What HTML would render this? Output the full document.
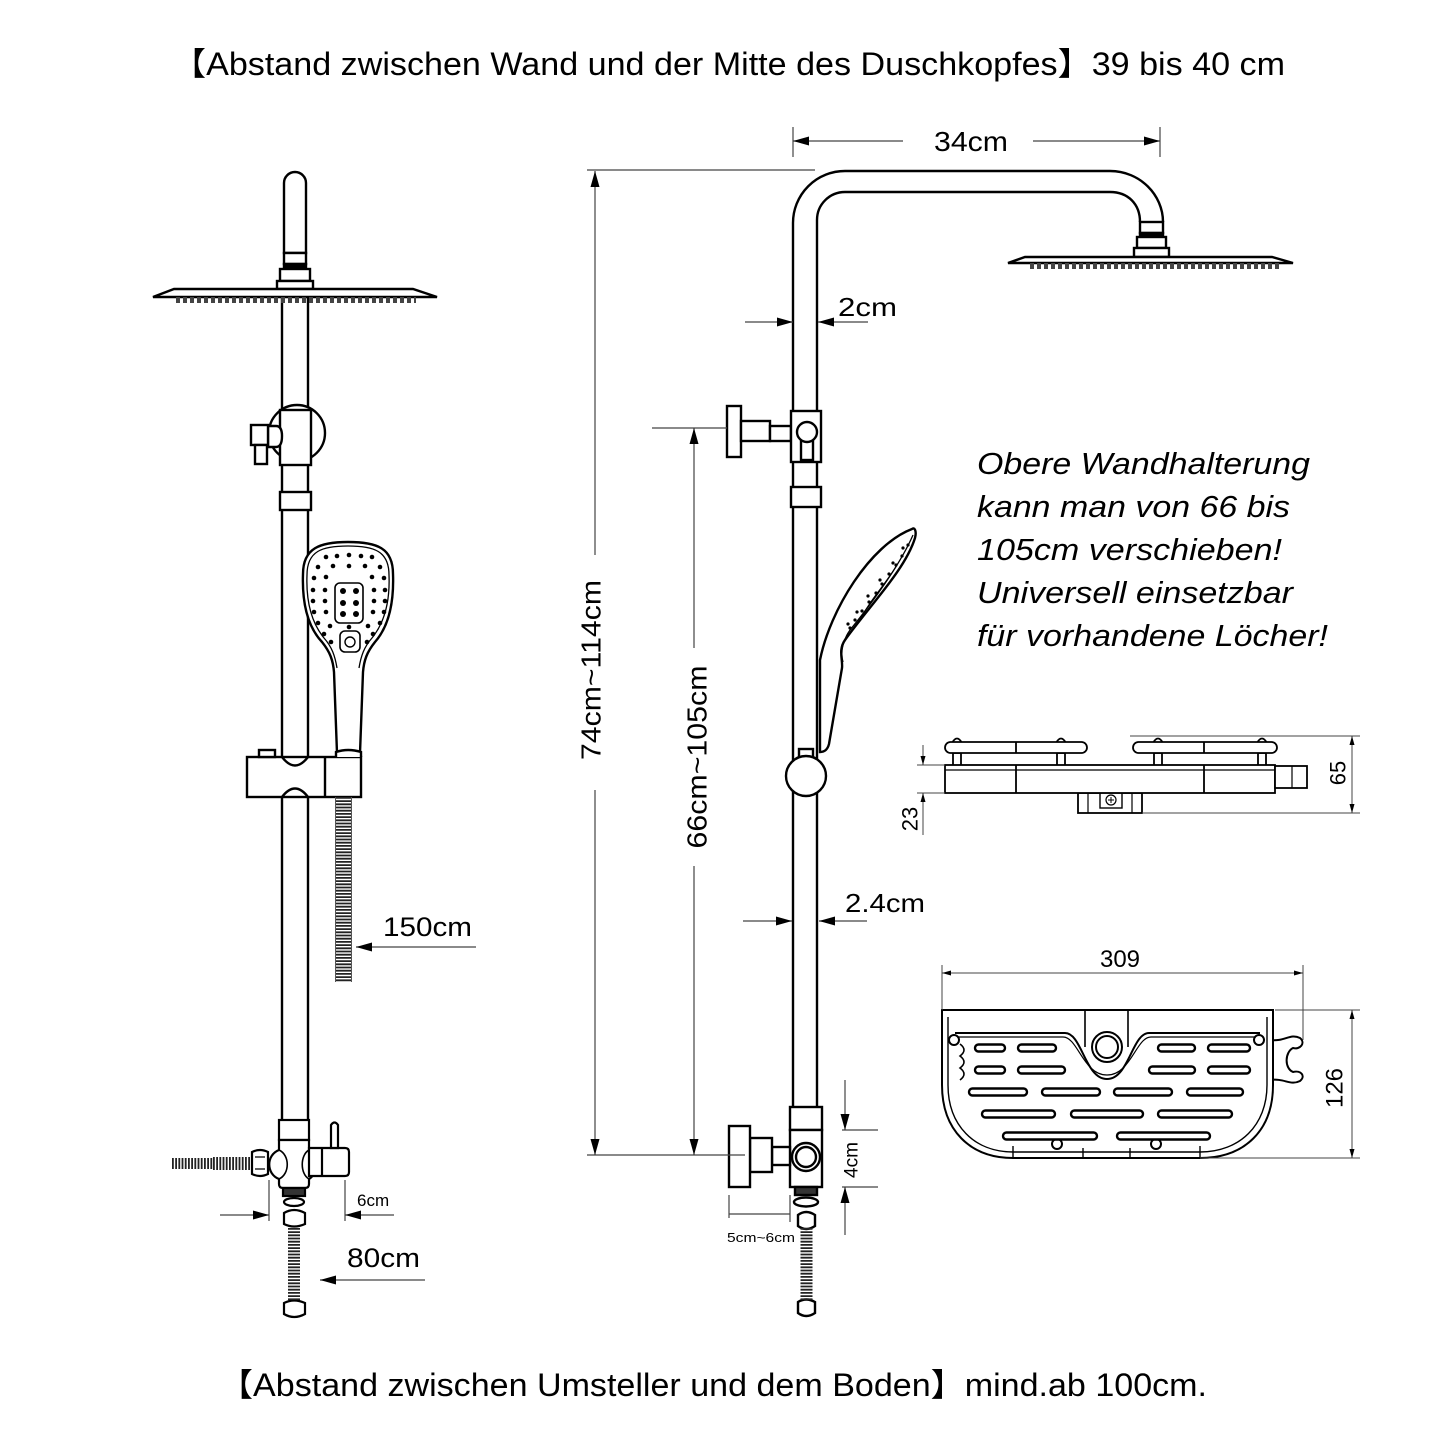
<!DOCTYPE html>
<html><head><meta charset="utf-8"><style>
html,body{margin:0;padding:0;background:#fff}
svg{display:block}
text{font-family:"Liberation Sans","Noto Sans CJK SC",sans-serif;fill:#000}
</style></head><body>
<svg width="1445" height="1445" viewBox="0 0 1445 1445" xmlns="http://www.w3.org/2000/svg">
<defs>
<marker id="A" viewBox="0 0 16 9" refX="16" refY="4.5" markerWidth="16" markerHeight="9" markerUnits="userSpaceOnUse" orient="auto-start-reverse"><path d="M0 0L16 4.5L0 9z" fill="#000"/></marker>
<marker id="S" viewBox="0 0 9 5" refX="9" refY="2.5" markerWidth="9" markerHeight="5" markerUnits="userSpaceOnUse" orient="auto-start-reverse"><path d="M0 0L9 2.5L0 5z" fill="#000"/></marker>
</defs>
<rect width="1445" height="1445" fill="#fff"/>

<!-- Titles -->
<text x="172" y="75" font-size="32" textLength="1113" lengthAdjust="spacingAndGlyphs">【Abstand zwischen Wand und der Mitte des Duschkopfes】39 bis 40 cm</text>
<text x="219" y="1396" font-size="32" textLength="988" lengthAdjust="spacingAndGlyphs">【Abstand zwischen Umsteller und dem Boden】mind.ab 100cm.</text>

<!-- ================= LEFT DRAWING ================= -->
<g stroke="#000" stroke-width="2.4" fill="#fff">
  <line x1="282" y1="296" x2="282" y2="1122"/>
  <line x1="308" y1="296" x2="308" y2="1122"/>
  <path d="M284 253V183A11 11 0 0 1 306 183V253Z"/>
  <rect x="284" y="253" width="22" height="11"/>
  <rect x="284" y="264" width="22" height="5" fill="#000"/>
  <rect x="280" y="269" width="30" height="12"/>
  <rect x="277" y="281" width="36" height="8"/>
  <path d="M174 289H413L437 297H153Z"/>
</g>
<line x1="176" y1="300" x2="416" y2="300" stroke="#444" stroke-width="6" stroke-dasharray="4 3"/>

<g stroke="#000" stroke-width="2.4" fill="#fff">
  <circle cx="297" cy="433" r="28"/>
  <rect x="280" y="410" width="31" height="55"/>
  <path d="M268 426H276Q282 426 282 436Q282 447 276 447H268Z"/>
  <rect x="251" y="425" width="17" height="20"/>
  <rect x="255" y="445" width="12" height="19"/>
  <rect x="280" y="492" width="31" height="18"/>

  <path d="M348 542C377 542 393 548 393 574C394 602 389 626 375 642C367 652 364 660 363 672L360 753L337 753L334 672C333 660 330 652 322 642C307 626 302 602 303 574C303 548 320 542 348 542Z"/>
  <path d="M348 546C374 546 389 551 389 575C390 600 385 622 372 638C364 647 361 656 359 668" fill="none" stroke-width="1.3"/>
  <path d="M348 546C322 546 307 551 307 575C306 600 311 622 324 638C332 647 335 656 337 668" fill="none" stroke-width="1.3"/>
  <rect x="335" y="583" width="28" height="40" rx="5" stroke-width="1.6"/>
  <rect x="340" y="631" width="20" height="21" rx="5" stroke-width="1.6"/>
  <circle cx="350" cy="642" r="5" stroke-width="1.4"/>
  <rect x="247" y="757" width="114" height="40"/>
  <line x1="325" y1="757" x2="325" y2="797"/>
  <rect x="259" y="750" width="16" height="7"/>
  <path d="M336 757V752Q348 748 361 752V757" />
  <path d="M282 757Q295 774 308 757" fill="none"/>
  <path d="M282 797Q295 780 308 797" fill="none"/>
</g>
<g fill="#000">
  <circle cx="326" cy="557" r="2.3"/><circle cx="337" cy="556" r="2.3"/><circle cx="349" cy="555" r="2.3"/><circle cx="361" cy="556" r="2.3"/><circle cx="372" cy="557" r="2.3"/>
  <circle cx="318" cy="567" r="2.3"/><circle cx="333" cy="566" r="2.3"/><circle cx="349" cy="566" r="2.3"/><circle cx="365" cy="566" r="2.3"/><circle cx="380" cy="567" r="2.3"/>
  <circle cx="314" cy="578" r="2.3"/><circle cx="326" cy="577" r="2.3"/><circle cx="372" cy="577" r="2.3"/><circle cx="384" cy="578" r="2.3"/>
  <circle cx="313" cy="590" r="2.3"/><circle cx="325" cy="590" r="2.3"/><circle cx="374" cy="590" r="2.3"/><circle cx="385" cy="590" r="2.3"/>
  <circle cx="313" cy="601" r="2.3"/><circle cx="325" cy="601" r="2.3"/><circle cx="374" cy="601" r="2.3"/><circle cx="385" cy="601" r="2.3"/>
  <circle cx="314" cy="612" r="2.3"/><circle cx="326" cy="612" r="2.3"/><circle cx="373" cy="612" r="2.3"/><circle cx="384" cy="612" r="2.3"/>
  <circle cx="318" cy="623" r="2.3"/><circle cx="330" cy="626" r="2.3"/><circle cx="349" cy="627" r="2.3"/><circle cx="368" cy="626" r="2.3"/><circle cx="380" cy="623" r="2.3"/>
  <circle cx="324" cy="634" r="2.3"/><circle cx="373" cy="634" r="2.3"/>
  <circle cx="331" cy="642" r="2.3"/><circle cx="367" cy="642" r="2.3"/>
  <circle cx="343" cy="591" r="3"/><circle cx="356" cy="591" r="3"/><circle cx="343" cy="603" r="3"/><circle cx="356" cy="603" r="3"/><circle cx="343" cy="614" r="3"/><circle cx="356" cy="614" r="3"/>
</g>
<line x1="343.5" y1="797" x2="343.5" y2="982" stroke="#222" stroke-width="16" stroke-dasharray="1.8 1.4"/>
<line x1="335.5" y1="797" x2="335.5" y2="982" stroke="#555" stroke-width="1"/>
<line x1="351.5" y1="797" x2="351.5" y2="982" stroke="#555" stroke-width="1"/>
<text x="383" y="936" font-size="27" textLength="89" lengthAdjust="spacingAndGlyphs">150cm</text>
<line x1="476" y1="947" x2="356" y2="947" stroke="#444" stroke-width="1.2" marker-end="url(#A)"/>

<line x1="213" y1="1163.5" x2="252" y2="1163.5" stroke="#222" stroke-width="13" stroke-dasharray="1.8 1.4"/>
<line x1="172" y1="1163.5" x2="213" y2="1163.5" stroke="#222" stroke-width="11" stroke-dasharray="1.8 1.4"/>
<g stroke="#000" stroke-width="2.2" fill="#fff">
  <rect x="279" y="1120" width="30" height="20"/>
  <path d="M279 1140V1150C266 1155 266 1174 279 1179V1184Q279 1188 283 1188H305Q309 1188 309 1184V1179C318 1174 318 1155 309 1150V1140Z"/>
  <path d="M279 1150C290 1155 290 1174 279 1179" fill="none" stroke-width="1.6"/>
  <path d="M309 1150C300 1155 300 1174 309 1179" fill="none" stroke-width="1.6"/>
  <path d="M309 1148H345Q349 1148 349 1152V1172Q349 1176 345 1176H309Z"/>
  <line x1="322" y1="1148" x2="322" y2="1176"/>
  <path d="M331 1148V1125Q334.5 1120 338 1125V1148Z"/>
  <path d="M252 1152Q260 1148 268 1152V1174Q260 1178 252 1174Z"/>
  <path d="M255 1157h10M255 1169h10" stroke-width="1.2"/>
  <rect x="283" y="1188" width="22" height="8" fill="#333"/>
  <ellipse cx="294" cy="1202" rx="10" ry="4"/>
  <path d="M284 1213Q294 1207 305 1213V1224Q294 1229 284 1224Z"/>
  <path d="M284 1303Q294 1298 305 1303V1314Q294 1320 284 1314Z"/>
</g>
<line x1="294" y1="1228" x2="294" y2="1300" stroke="#222" stroke-width="12" stroke-dasharray="1.8 1.4"/>
<g stroke="#444" stroke-width="1.2" fill="none">
  <line x1="269" y1="1180" x2="269" y2="1221"/>
  <line x1="345" y1="1180" x2="345" y2="1221"/>
  <line x1="220" y1="1215" x2="269" y2="1215" marker-end="url(#A)"/>
  <line x1="394" y1="1215" x2="345" y2="1215" marker-end="url(#A)"/>
  <line x1="425" y1="1280" x2="320" y2="1280" marker-end="url(#A)"/>
</g>
<text x="357" y="1206" font-size="17">6cm</text>
<text x="347" y="1267" font-size="27" textLength="73" lengthAdjust="spacingAndGlyphs">80cm</text>

<!-- ================= RIGHT DRAWING ================= -->
<path d="M793 1108V223A52 52 0 0 1 845 171H1110C1140 171 1163 195 1163 222M1140 222C1140 204 1128 192 1110 192H845A28 28 0 0 0 817 220V1108" fill="none" stroke="#000" stroke-width="2.4"/>
<g stroke="#000" stroke-width="2.4" fill="#fff">
  <rect x="1140" y="222" width="23" height="11"/>
  <rect x="1140" y="233" width="23" height="4" fill="#000"/>
  <rect x="1137" y="237" width="29" height="11"/>
  <rect x="1134" y="248" width="35" height="9"/>
  <path d="M1025 257H1272L1293 263H1008Z"/>
</g>
<line x1="1030" y1="266" x2="1282" y2="266" stroke="#444" stroke-width="6" stroke-dasharray="4 3"/>

<g stroke="#000" stroke-width="2.4" fill="#fff">
  <rect x="727" y="406" width="14" height="51"/>
  <rect x="741" y="421" width="29" height="20"/>
  <rect x="770" y="426" width="21" height="15"/>
  <rect x="791" y="411" width="30" height="51"/>
  <rect x="801" y="440" width="12" height="20"/>
  <circle cx="807" cy="432" r="10"/>
  <rect x="791" y="487" width="30" height="20"/>
  <path d="M912 529C870 545 830 610 820 660L820 752C826 752 828 748 829 744L842 668C843 660 838 650 845 640C870 605 905 570 915 538C917 530 914 527 912 529Z"/>
  <path d="M913 535C900 565 872 603 850 630C843 640 840 652 843 662" fill="none" stroke-width="1.3"/>
  <path d="M860 620C870 600 885 585 897 565" fill="none" stroke-width="1.2"/>
  <rect x="799" y="749" width="14" height="8"/>
  <circle cx="806" cy="776" r="20"/>
  <rect x="790" y="1107" width="32" height="23"/>
  <rect x="790" y="1130" width="32" height="57"/>
  <circle cx="806" cy="1157" r="14"/>
  <circle cx="806" cy="1157" r="10"/>
  <rect x="772" y="1147" width="18" height="18"/>
  <rect x="750" y="1138" width="22" height="34"/>
  <rect x="729" y="1126" width="21" height="61"/>
  <rect x="795" y="1187" width="22" height="8" fill="#333"/>
  <ellipse cx="806" cy="1202" rx="12" ry="4.5"/>
  <path d="M798 1215Q806 1209 815 1215V1226Q806 1232 798 1226Z"/>
  <path d="M798 1302Q806 1297 815 1302V1313Q806 1319 798 1313Z"/>
</g>
<line x1="806.5" y1="1228" x2="806.5" y2="1300" stroke="#222" stroke-width="12" stroke-dasharray="1.8 1.4"/>
<g fill="#000">
  <circle cx="908" cy="545" r="1.6"/><circle cx="902" cy="556" r="1.6"/><circle cx="896" cy="565" r="1.6"/><circle cx="889" cy="574" r="1.6"/><circle cx="882" cy="584" r="1.6"/><circle cx="876" cy="593" r="1.6"/><circle cx="869" cy="602" r="1.6"/><circle cx="862" cy="611" r="1.6"/><circle cx="855" cy="620" r="1.6"/><circle cx="850" cy="628" r="1.6"/>
  <circle cx="903" cy="548" r="1.6"/><circle cx="893" cy="563" r="1.6"/><circle cx="880" cy="580" r="1.6"/><circle cx="868" cy="596" r="1.6"/><circle cx="857" cy="612" r="1.6"/><circle cx="848" cy="624" r="1.6"/>
</g>

<g stroke="#444" stroke-width="1.2" fill="none">
  <line x1="793" y1="127" x2="793" y2="157"/>
  <line x1="1160" y1="127" x2="1160" y2="157"/>
  <line x1="903" y1="141" x2="793" y2="141" marker-end="url(#A)"/>
  <line x1="1033" y1="141" x2="1160" y2="141" marker-end="url(#A)"/>
  <line x1="745" y1="322" x2="793" y2="322" marker-end="url(#A)"/>
  <line x1="868" y1="322" x2="818" y2="322" marker-end="url(#A)"/>
  <line x1="743" y1="921" x2="792" y2="921" marker-end="url(#A)"/>
  <line x1="867" y1="921" x2="819" y2="921" marker-end="url(#A)"/>
  <line x1="587" y1="170" x2="815" y2="170"/>
  <line x1="587" y1="1155" x2="745" y2="1155"/>
  <line x1="595" y1="555" x2="595" y2="171" marker-end="url(#A)"/>
  <line x1="595" y1="790" x2="595" y2="1155" marker-end="url(#A)"/>
  <line x1="652" y1="428" x2="727" y2="428"/>
  <line x1="694" y1="648" x2="694" y2="428" marker-end="url(#A)"/>
  <line x1="694" y1="866" x2="694" y2="1155" marker-end="url(#A)"/>
  <line x1="729" y1="1195" x2="729" y2="1218"/>
  <line x1="790" y1="1195" x2="790" y2="1222"/>
  <line x1="729" y1="1214" x2="790" y2="1214"/>
  <line x1="842" y1="1130" x2="878" y2="1130"/>
  <line x1="842" y1="1187" x2="878" y2="1187"/>
  <line x1="845" y1="1080" x2="845" y2="1130" marker-end="url(#A)"/>
  <line x1="845" y1="1235" x2="845" y2="1187" marker-end="url(#A)"/>
</g>
<text x="934" y="151" font-size="28" textLength="74" lengthAdjust="spacingAndGlyphs">34cm</text>
<text x="838" y="316" font-size="26" textLength="59" lengthAdjust="spacingAndGlyphs">2cm</text>
<text x="845" y="912" font-size="26" textLength="80" lengthAdjust="spacingAndGlyphs">2.4cm</text>
<text transform="translate(591 670) rotate(-90)" font-size="28" text-anchor="middle" dominant-baseline="central" textLength="180" lengthAdjust="spacingAndGlyphs">74cm~114cm</text>
<text transform="translate(697 757) rotate(-90)" font-size="28" text-anchor="middle" dominant-baseline="central" textLength="183" lengthAdjust="spacingAndGlyphs">66cm~105cm</text>
<text transform="translate(852 1160) rotate(-90)" font-size="19" text-anchor="middle" dominant-baseline="central">4cm</text>
<text x="727" y="1242" font-size="13" textLength="68" lengthAdjust="spacingAndGlyphs">5cm~6cm</text>

<g font-size="31" font-style="italic">
  <text x="977" y="474" textLength="333" lengthAdjust="spacingAndGlyphs">Obere Wandhalterung</text>
  <text x="977" y="517" textLength="313" lengthAdjust="spacingAndGlyphs">kann man von 66 bis</text>
  <text x="977" y="560" textLength="305" lengthAdjust="spacingAndGlyphs">105cm verschieben!</text>
  <text x="977" y="603" textLength="316" lengthAdjust="spacingAndGlyphs">Universell einsetzbar</text>
  <text x="977" y="646" textLength="351" lengthAdjust="spacingAndGlyphs">für vorhandene Löcher!</text>
</g>

<g stroke="#000" stroke-width="1.8" fill="#fff">
  <rect x="953" y="753" width="8" height="13"/>
  <rect x="1057" y="753" width="8" height="13"/>
  <rect x="1154" y="753" width="8" height="13"/>
  <rect x="1258" y="753" width="8" height="13"/>
  <path d="M952 743Q957 734 962 743Z"/><path d="M1056 743Q1061 734 1066 743Z"/><path d="M1153 743Q1158 734 1163 743Z"/><path d="M1257 743Q1262 734 1267 743Z"/>
  <rect x="945" y="742" width="142" height="11" rx="5.5"/>
  <rect x="1133" y="742" width="144" height="11" rx="5.5"/>
  <line x1="1016" y1="742" x2="1016" y2="753"/>
  <line x1="1204" y1="742" x2="1204" y2="753"/>
  <rect x="1078" y="793" width="64" height="20"/>
  <line x1="1088" y1="793" x2="1088" y2="813" stroke-width="1.2"/>
  <line x1="1132" y1="793" x2="1132" y2="813" stroke-width="1.2"/>
  <rect x="1100" y="793" width="22" height="15" stroke-width="1.4"/>
  <circle cx="1111" cy="800" r="5" stroke-width="1.2"/>
  <path d="M1108 800h6M1111 797v6" stroke-width="1"/>
  <rect x="945" y="765" width="330" height="28"/>
  <line x1="945" y1="770" x2="1275" y2="770" stroke-width="1.2"/>
  <line x1="1016" y1="765" x2="1016" y2="793"/>
  <line x1="1204" y1="765" x2="1204" y2="793"/>
  <rect x="1275" y="766" width="32" height="22"/>
  <line x1="1292" y1="766" x2="1292" y2="788" stroke-width="1.2"/>
</g>
<g stroke="#444" stroke-width="1" fill="none">
  <line x1="1130" y1="736" x2="1360" y2="736"/>
  <line x1="1142" y1="813" x2="1360" y2="813"/>
  <line x1="1352" y1="775" x2="1352" y2="736" marker-end="url(#S)"/>
  <line x1="1352" y1="775" x2="1352" y2="813" marker-end="url(#S)"/>
  <line x1="917" y1="765" x2="945" y2="765"/>
  <line x1="917" y1="793" x2="945" y2="793"/>
  <line x1="923" y1="745" x2="923" y2="765" marker-end="url(#S)"/>
  <line x1="923" y1="835" x2="923" y2="793" marker-end="url(#S)"/>
</g>
<text transform="translate(1338 773) rotate(-90)" font-size="22" text-anchor="middle" dominant-baseline="central">65</text>
<text transform="translate(910 819) rotate(-90)" font-size="22" text-anchor="middle" dominant-baseline="central">23</text>

<g stroke="#000" stroke-width="2" fill="#fff">
  <path d="M1270 1040C1285 1042 1290 1033 1300 1038C1306 1043 1300 1050 1293 1048C1285 1052 1284 1068 1293 1072C1301 1070 1306 1076 1300 1081C1290 1086 1285 1078 1270 1080Z"/>
  <path d="M942 1010V1085C942 1130 970 1158 1013 1158H1200C1245 1158 1273 1130 1273 1085V1010Z"/>
  <path d="M948 1017V1085C948 1125 974 1152 1013 1152H1200C1240 1152 1267 1125 1267 1085V1017" fill="none" stroke-width="1.4"/>
  <path d="M955 1033H1065C1082 1033 1085 1079 1107 1079C1129 1079 1132 1033 1149 1033H1260" fill="none"/>
  <path d="M955 1037H1063C1078 1037 1083 1075 1107 1075C1131 1075 1136 1037 1151 1037H1260" fill="none" stroke-width="1.2"/>
  <path d="M1085 1010V1047M1128 1010V1047" fill="none" stroke-width="1.6"/>
  <circle cx="1107" cy="1047" r="15"/>
  <circle cx="1107" cy="1047" r="11"/>
  <circle cx="954" cy="1040" r="5"/>
  <circle cx="1259" cy="1040" r="5"/>
  <circle cx="1057" cy="1144" r="5"/>
  <circle cx="1156" cy="1144" r="5"/>
  <path d="M960 1044Q968 1050 960 1056Q968 1062 960 1068Q968 1074 960 1080" fill="none" stroke-width="1.6"/>
  <path d="M1013 1146V1158M1083 1148V1158M1130 1148V1158M1200 1146V1158" stroke-width="1.4"/>
</g>
<g stroke="#000" stroke-width="2.4" fill="#fff">
  <rect x="975" y="1044.5" width="30" height="7" rx="3.5"/>
  <rect x="1018" y="1044.5" width="38" height="7" rx="3.5"/>
  <rect x="1158" y="1044.5" width="37" height="7" rx="3.5"/>
  <rect x="1208" y="1044.5" width="42" height="7" rx="3.5"/>
  <rect x="975" y="1066.5" width="30" height="7" rx="3.5"/>
  <rect x="1018" y="1066.5" width="47" height="7" rx="3.5"/>
  <rect x="1149" y="1066.5" width="46" height="7" rx="3.5"/>
  <rect x="1208" y="1066.5" width="42" height="7" rx="3.5"/>
  <rect x="969" y="1088.5" width="58" height="7" rx="3.5"/>
  <rect x="1042" y="1088.5" width="58" height="7" rx="3.5"/>
  <rect x="1114" y="1088.5" width="58" height="7" rx="3.5"/>
  <rect x="1187" y="1088.5" width="56" height="7" rx="3.5"/>
  <rect x="982" y="1110.5" width="73" height="7" rx="3.5"/>
  <rect x="1071" y="1110.5" width="72" height="7" rx="3.5"/>
  <rect x="1158" y="1110.5" width="74" height="7" rx="3.5"/>
  <rect x="1003" y="1132.5" width="94" height="7" rx="3.5"/>
  <rect x="1117" y="1132.5" width="93" height="7" rx="3.5"/>
</g>
<g stroke="#444" stroke-width="1" fill="none">
  <line x1="942" y1="965" x2="942" y2="1010"/>
  <line x1="1303" y1="965" x2="1303" y2="1040"/>
  <line x1="1120" y1="973" x2="942" y2="973" marker-end="url(#S)"/>
  <line x1="1120" y1="973" x2="1303" y2="973" marker-end="url(#S)"/>
  <line x1="1275" y1="1010" x2="1360" y2="1010"/>
  <line x1="1200" y1="1158" x2="1360" y2="1158"/>
  <line x1="1352" y1="1085" x2="1352" y2="1010" marker-end="url(#S)"/>
  <line x1="1352" y1="1085" x2="1352" y2="1158" marker-end="url(#S)"/>
</g>
<text x="1120" y="967" font-size="24" text-anchor="middle">309</text>
<text transform="translate(1335 1088) rotate(-90)" font-size="24" text-anchor="middle" dominant-baseline="central">126</text>
</svg>
</body></html>
